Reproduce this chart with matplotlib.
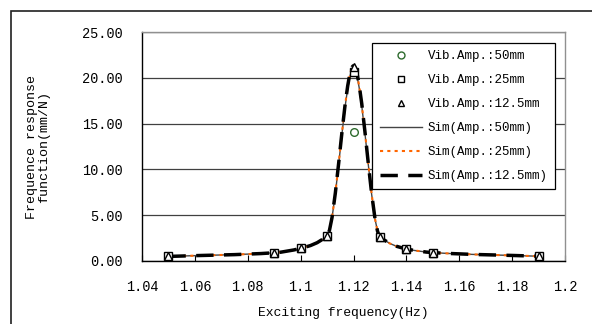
import matplotlib
matplotlib.use("Agg")
import matplotlib.pyplot as plt
import numpy as np
from matplotlib.path import Path
from matplotlib.patches import PathPatch, Rectangle
from matplotlib.lines import Line2D

# measured points (Hz, mm/N)
freq = [1.05, 1.09, 1.10, 1.11, 1.12, 1.13, 1.14, 1.15, 1.19]
vib_50 = [0.50, 0.90, 1.38, 2.75, 14.05, 2.65, 1.32, 0.92, 0.52]
vib_25 = [0.50, 0.90, 1.38, 2.75, 20.60, 2.65, 1.32, 0.92, 0.52]
vib_125 = [0.50, 0.90, 1.38, 2.75, 21.20, 2.65, 1.32, 0.92, 0.52]

# simulated curves at the same frequencies
sim_50 = [0.50, 0.90, 1.38, 2.75, 21.00, 2.65, 1.32, 0.92, 0.52]
sim_25 = [0.50, 0.90, 1.38, 2.75, 21.20, 2.65, 1.32, 0.92, 0.52]
sim_125 = [0.50, 0.90, 1.38, 2.75, 21.30, 2.65, 1.32, 0.92, 0.52]

xticks = [1.04, 1.06, 1.08, 1.10, 1.12, 1.14, 1.16, 1.18, 1.20]
xticklabels = ["1.04", "1.06", "1.08", "1.1", "1.12", "1.14", "1.16", "1.18", "1.2"]
yticks = [0, 5, 10, 15, 20, 25]

FONT = "Liberation Mono"


def smooth_path(x, y):
    # smoothed line: monotone cubic (bezier form) through the points
    x = np.asarray(x, float)
    y = np.asarray(y, float)
    h = np.diff(x)
    d = np.diff(y) / h
    n = len(x)
    m = np.zeros(n)
    m[0], m[-1] = d[0], d[-1]
    for i in range(1, n - 1):
        if d[i - 1] * d[i] > 0:
            w1 = 2 * h[i] + h[i - 1]
            w2 = h[i] + 2 * h[i - 1]
            m[i] = (w1 + w2) / (w1 / d[i - 1] + w2 / d[i])
    verts = [(x[0], y[0])]
    codes = [Path.MOVETO]
    for i in range(n - 1):
        verts += [(x[i] + h[i] / 3, y[i] + m[i] * h[i] / 3),
                  (x[i + 1] - h[i] / 3, y[i + 1] - m[i + 1] * h[i] / 3),
                  (x[i + 1], y[i + 1])]
        codes += [Path.CURVE4] * 3
    return Path(verts, codes)


fig = plt.figure(figsize=(5.92, 3.24), dpi=100)
ax = fig.add_axes([142 / 592, 1 - 261 / 324, (565 - 142) / 592, (261 - 32) / 324])

# outer chart border (cropped at right/bottom)
fig.patches.append(Rectangle((11 / 592, -0.1), 1.2, 1.1 - 11 / 324, transform=fig.transFigure,
                             fill=False, edgecolor="#202020", linewidth=1.2))

ax.set_xlim(1.04, 1.20)
ax.set_ylim(0, 25)

styles = [
    (sim_50, "#444444", 1.0, "-"),
    (sim_25, "#ff6600", 1.5, (0, (1.5, 2.0))),
    (sim_125, "black", 2.5, (0, (5, 3))),
]
for vals, col, lw, ls in styles:
    ax.add_patch(PathPatch(smooth_path(freq, vals), facecolor="none", edgecolor=col,
                           linewidth=lw, linestyle=ls, zorder=3, capstyle="butt"))

ax.plot(freq, vib_50, linestyle="none", marker="o", markersize=5.5, markerfacecolor="white",
        markeredgecolor="#2e6b2e", markeredgewidth=1.0, zorder=4)
ax.plot(freq, vib_25, linestyle="none", marker="s", markersize=5.5, markerfacecolor="white",
        markeredgecolor="black", markeredgewidth=1.0, zorder=5)
ax.plot(freq, vib_125, linestyle="none", marker="^", markersize=5.5, markerfacecolor="white",
        markeredgecolor="black", markeredgewidth=1.0, zorder=6)

ax.set_xticks(xticks)
ax.set_xticklabels(xticklabels, fontfamily=FONT, fontsize=9.8)
ax.set_yticks(yticks)
ax.set_yticklabels(["%.2f" % v for v in yticks], fontfamily=FONT, fontsize=9.8)
ax.tick_params(axis="x", direction="in", length=4, width=0.8, pad=14)
ax.tick_params(axis="y", length=0, pad=14)
ax.grid(axis="y", color="#404040", linewidth=0.9)
ax.set_axisbelow(True)

ax.spines["left"].set_color("black")
ax.spines["bottom"].set_color("black")
ax.spines["top"].set_color("#909090")
ax.spines["right"].set_color("#909090")
for s in ax.spines.values():
    s.set_linewidth(1.0)

fig.text(343 / 592, 1 - 313 / 324, "Exciting frequency(Hz)", ha="center", va="center",
         fontfamily=FONT, fontsize=9.4)
fig.text(38 / 592, 1 - 147 / 324, "Frequence response\nfunction(mm/N)", ha="center", va="center",
         rotation=90, multialignment="center", fontfamily=FONT, fontsize=9.6, linespacing=1.0)

handles = [
    Line2D([], [], linestyle="none", marker="o", markersize=5, markerfacecolor="white",
           markeredgecolor="#2e6b2e"),
    Line2D([], [], linestyle="none", marker="s", markersize=5, markerfacecolor="white",
           markeredgecolor="black"),
    Line2D([], [], linestyle="none", marker="^", markersize=5, markerfacecolor="white",
           markeredgecolor="black"),
    Line2D([], [], color="#444444", linewidth=1.0),
    Line2D([], [], color="#ff6600", linewidth=1.5, dashes=(1.5, 2.0)),
    Line2D([], [], color="black", linewidth=2.5, dashes=(5, 3)),
]
labels = ["Vib.Amp.:50mm", "Vib.Amp.:25mm", "Vib.Amp.:12.5mm",
          "Sim(Amp.:50mm)", "Sim(Amp.:25mm)", "Sim(Amp.:12.5mm)"]
leg = fig.legend(handles, labels, loc="upper left", bbox_to_anchor=(372 / 592, 1 - 43 / 324),
                 prop={"family": FONT, "size": 9.0}, frameon=True, fancybox=False,
                 edgecolor="black", framealpha=1, borderpad=0.6, labelspacing=0.95,
                 handlelength=3.4, handletextpad=0.45, borderaxespad=0)
leg.get_frame().set_linewidth(0.9)

fig.savefig("out.png", dpi=100)
